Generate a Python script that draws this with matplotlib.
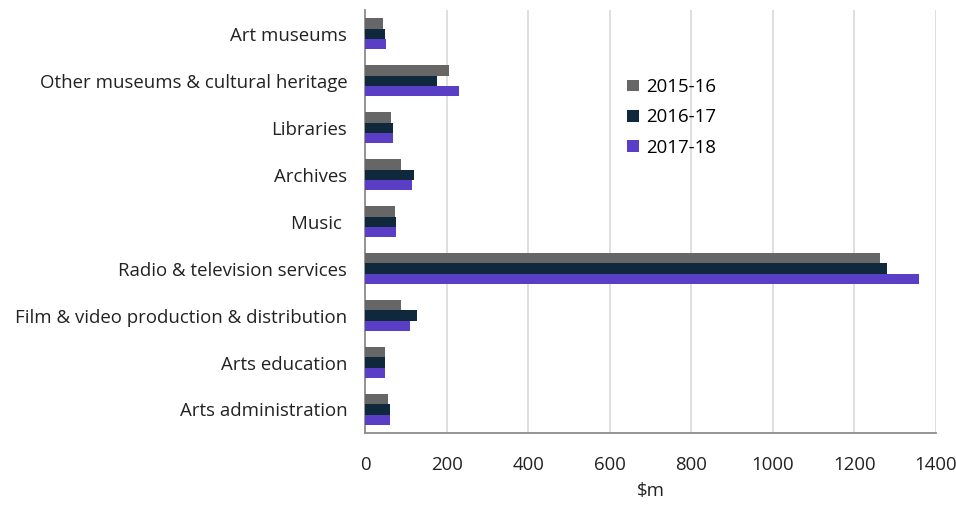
import numpy as np
import matplotlib.pyplot as plt

# ==========================
# Data ($m)
# ==========================

categories = [
    'Art museums',
    'Other museums & cultural heritage',
    'Libraries',
    'Archives',
    'Music ',
    'Radio & television services',
    'Film & video production & distribution',
    'Arts education',
    'Arts administration',
]

years = ['2015-16', '2016-17', '2017-18']

v_2015_16 = [44, 206, 63, 87, 72, 1264, 87, 49, 56]
v_2016_17 = [49, 175, 69, 120, 76, 1280, 127, 49, 60]
v_2017_18 = [52, 229, 69, 115, 76, 1359, 111, 49, 60]

colors = ['#666666', '#10283b', '#5a3ec6']

# ==========================
# Plot
# ==========================

plt.rcParams['font.family'] = ['Open Sans', 'DejaVu Sans']
fs = 13.4

fig = plt.figure(figsize=(9.56, 5.07), dpi=100)
ax = fig.add_axes([0.382, 0.146, 0.597, 0.834])

y = np.arange(len(categories))
h = 0.215

for i, (vals, lab) in enumerate(zip([v_2015_16, v_2016_17, v_2017_18], years)):
    ax.barh(
        y + (i - 1) * h,
        vals,
        height=h,
        color=colors[i],
        label=lab,
        zorder=3
    )

ax.set_ylim(len(categories) - 0.5, -0.5)
ax.set_yticks(y)
ax.set_yticklabels(categories, fontsize=fs, color='#222222')

ax.set_xlim(0, 1400)
ax.set_xticks(np.arange(0, 1401, 200))
ax.tick_params(axis='x', length=0, pad=16.5, labelsize=fs, labelcolor='#222222')
ax.tick_params(axis='y', length=0, pad=13)

ax.set_xlabel('$m', fontsize=fs, color='#222222', labelpad=6)

# Grid
ax.grid(axis='x', color='#d9d9d9', linewidth=1.2, zorder=0)
ax.grid(axis='y', visible=False)

for s in ['top', 'right']:
    ax.spines[s].set_visible(False)
for s in ['left', 'bottom']:
    ax.spines[s].set_color('#8c8c8c')
    ax.spines[s].set_linewidth(1.3)

# Legend
ax.legend(
    loc='upper left',
    bbox_to_anchor=(0.43, 0.879),
    frameon=False,
    fontsize=fs,
    handlelength=0.6,
    handleheight=0.6,
    handletextpad=0.4,
    labelspacing=0.66
)

fig.savefig('out.png', dpi=100)
